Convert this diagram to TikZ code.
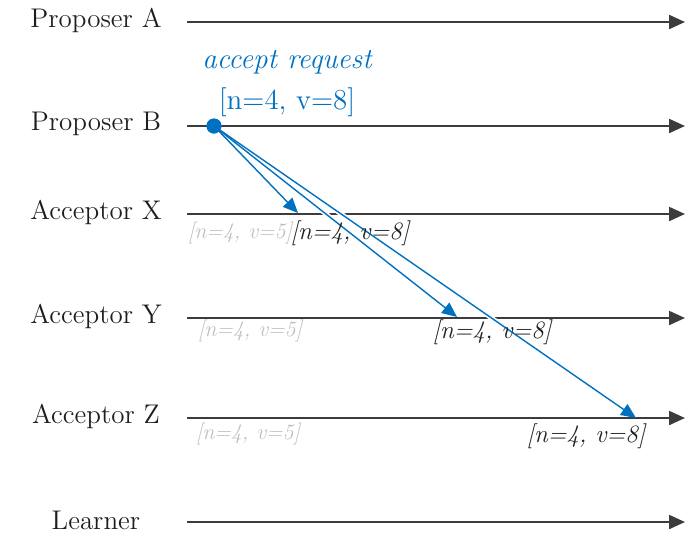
\documentclass[tikz,border=0pt]{standalone}
\usetikzlibrary{arrows.meta}
\definecolor{msgblue}{RGB}{0,112,192}
\definecolor{lifegray}{RGB}{60,60,60}
\definecolor{oldgray}{RGB}{190,190,190}
\definecolor{newblack}{RGB}{30,30,30}
\begin{document}
\begin{tikzpicture}[x=0.5pt,y=-0.5pt,
  lifeline/.style={draw=lifegray, line width=1.1pt, -{Triangle[length=8pt,width=7pt]}},
  rolelabel/.style={font=\fontsize{13.5}{15}\selectfont, text=newblack, inner sep=0pt},
  msg/.style={draw=msgblue, line width=0.7pt, -{Triangle[length=7.5pt,width=6.5pt]}},
  halo/.style={draw=white, line width=2.4pt, shorten >=7pt},
  oldval/.style={font=\fontsize{11}{13}\selectfont\itshape, text=oldgray, inner sep=0pt},
  newval/.style={font=\fontsize{12.5}{14}\selectfont\itshape, text=newblack, inner sep=0pt},
  dot/.style={circle, fill=msgblue, minimum size=7.5pt, inner sep=0pt}]
\useasboundingbox (0,0) rectangle (685,537);
% role labels
\node[rolelabel] (lA) at (96,20) {Proposer A};
\node[rolelabel] (lB) at (96,124) {Proposer B};
\node[rolelabel] (lX) at (96,212) {Acceptor X};
\node[rolelabel] (lY) at (96,316) {Acceptor Y};
\node[rolelabel] (lZ) at (96,416) {Acceptor Z};
\node[rolelabel] (lL) at (96,520) {Learner};
% lifeline endpoints
\coordinate (aS) at (187,22);  \coordinate (aE) at (685,22);
\coordinate (bS) at (187,126); \coordinate (bE) at (685,126);
\coordinate (xS) at (187,214); \coordinate (xE) at (685,214);
\coordinate (yS) at (187,318); \coordinate (yE) at (685,318);
\coordinate (zS) at (187,418); \coordinate (zE) at (685,418);
\coordinate (lS) at (187,522); \coordinate (lE) at (685,522);
\foreach \p in {a,b,x,y,z,l} \draw[lifeline] (\p S) -- (\p E);
% message targets
\coordinate (tX) at (298,213);
\coordinate (tY) at (457,317);
\coordinate (tZ) at (636,418);
\node[dot] (src) at (214,126) {};
% halos then messages
\draw[halo] (src.center) -- (tX);
\draw[halo] (src.center) -- (tY);
\draw[halo] (src.center) -- (tZ);
\draw[msg] (src.center) -- (tX);
\draw[msg] (src.center) -- (tY);
\draw[msg] (src.center) -- (tZ);
\node[dot] at (src) {};
% blue caption
\node[font=\fontsize{14.5}{17}\selectfont\itshape, text=msgblue, inner sep=0pt] (cap1) at (287,62) {accept request};
\node[font=\fontsize{14.5}{17}\selectfont, text=msgblue, inner sep=0pt] (cap2) at (287,102) {[n=4, v=8]};
% values
\node[oldval] (oX) at (240,233) {[n=4, v=5]};
\node[oldval] (oY) at (250,331) {[n=4, v=5]};
\node[oldval] (oZ) at (248,434) {[n=4, v=5]};
\node[newval] (nX) at (350,233) {[n=4, v=8]};
\node[newval] (nY) at (492,332) {[n=4, v=8]};
\node[newval] (nZ) at (586,436) {[n=4, v=8]};
\end{tikzpicture}
\end{document}
